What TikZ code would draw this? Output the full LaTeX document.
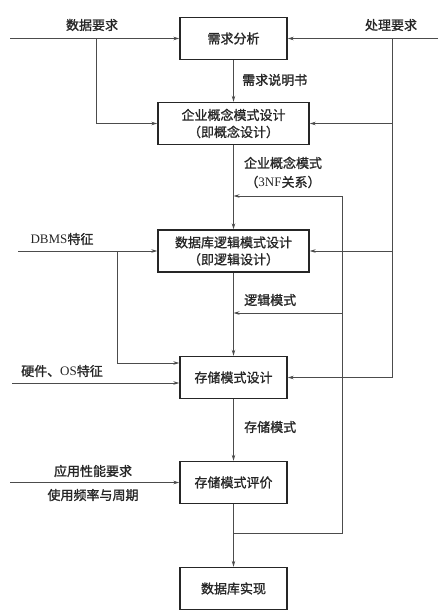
\documentclass[tikz,border=0pt]{standalone}
\usepackage{fontspec}
\setmainfont{Liberation Serif}
\newfontfamily\cjk[FakeBold=1.3]{Noto Sans CJK SC}
\usetikzlibrary{arrows.meta,calc}

\begin{document}
\begin{tikzpicture}[x=1pt,y=-1pt,
  box/.style={shape=rectangle,draw=black!85,line width=1.4pt,align=center,minimum width=107pt,minimum height=42pt,inner sep=0pt,font=\cjk\fontsize{13}{17}\selectfont,text=black!85},
  wide/.style={box,minimum width=151pt},
  lbl/.style={align=center,inner sep=0pt,font=\cjk\fontsize{13}{19}\selectfont,text=black!85},
  line/.style={draw=black!70,line width=0.8pt},
  arr/.style={line,-{Stealth[length=6pt,width=3.5pt]}}]
\useasboundingbox (0,0) rectangle (446,615);

\node[box] (0) at (233.5,38.5) {需求分析};
\node[wide] (1) at (233.5,123.5) {企业概念模式设计\\（即概念设计）};
\node[wide] (2) at (233.5,251) {数据库逻辑模式设计\\（即逻辑设计）};
\node[box] (3) at (233.5,377.5) {存储模式设计};
\node[box] (4) at (233.5,482.5) {存储模式评价};
\node[box] (5) at (233.5,588.5) {数据库实现};

\node[lbl] (6) at (92,25) {数据要求};
\node[lbl] (7) at (391,25) {处理要求};
\node[lbl,anchor=west] (8) at (242,80) {需求说明书};
\node[lbl] (9) at (283,172.5) {企业概念模式\\（{\rmfamily 3NF}关系）};
\node[lbl] (10) at (62,239) {{\rmfamily DBMS}特征};
\node[lbl,anchor=west] (11) at (244,300) {逻辑模式};
\node[lbl] (12) at (62,371) {硬件、{\rmfamily OS}特征};
\node[lbl,anchor=west] (13) at (244,427) {存储模式};
\node[lbl] (14) at (93,471) {应用性能要求};
\node[lbl] (15) at (93,495) {使用频率与周期};

\coordinate (p0) at (10,38.5);
\coordinate (p1) at (438,38.5);
\coordinate (p2) at (96,38.5);
\coordinate (p3) at (392,38.5);
\coordinate (p4) at (18,251);
\coordinate (p5) at (117,251);
\coordinate (p6) at (117,363);
\coordinate (p7) at (12,383);
\coordinate (p8) at (10,482.5);
\coordinate (p9) at (233.5,533);
\coordinate (p10) at (342,533);
\coordinate (p11) at (342,196);
\coordinate (p12) at (342,313);

\draw[arr] (p0) -- (0);
\draw[arr] (p1) -- (0);
\draw[arr] (p2) |- (1);
\draw[arr] (p3) |- (1);
\draw[arr] (p3) |- (2);
\draw[arr] (p3) |- (3);
\draw[arr] (0) -- (1);
\draw[arr] (1) -- (2);
\draw[arr] (2) -- (3);
\draw[arr] (3) -- (4);
\draw[arr] (4) -- (5);
\draw[arr] (p4) -- (2);
\draw[arr] (p5) -- (p6) -- (p6 -| 3.west);
\draw[arr] (p7) -- (p7 -| 3.west);
\draw[arr] (p8) -- (4);
\draw[line] (p9) -- (p10) -- (p11);
\draw[arr] (p11) -- (p11 -| 1);
\draw[arr] (p12) -- (p12 -| 1);
\end{tikzpicture}
\end{document}
